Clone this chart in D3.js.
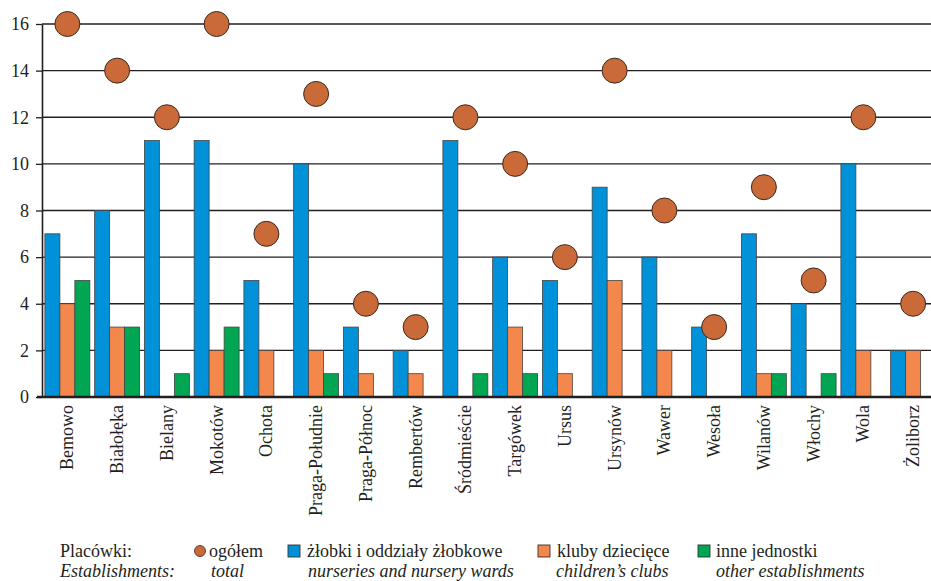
<!DOCTYPE html>
<html><head><meta charset="utf-8">
<script src="https://cdn.jsdelivr.net/npm/d3@7"></script>
<style>body{margin:0;background:#fff;} svg{display:block;}</style>
</head><body><svg id="c" width="931" height="581"></svg>
<script>
const categories = ["Bemowo","Białołęka","Bielany","Mokotów","Ochota","Praga-Południe","Praga-Północ","Rembertów","Śródmieście","Targówek","Ursus","Ursynów","Wawer","Wesoła","Wilanów","Włochy","Wola","Żoliborz"];
const total    = [16,14,12,16,7,13,4,3,12,10,6,14,8,3,9,5,12,4];
const nurseries= [7,8,11,11,5,10,3,2,11,6,5,9,6,3,7,4,10,2];
const clubs    = [4,3,0,2,2,2,1,1,0,3,1,5,2,0,1,0,2,2];
const other    = [5,3,1,3,0,1,0,0,1,1,0,0,0,0,1,1,0,0];
const yTicks = [0,2,4,6,8,10,12,14,16];
const seriesNames = ["nurseries","clubs","other"];
const colors = {total:"#c96a38", nurseries:"#0091d9", clubs:"#f4874b", other:"#00a651"};
const FONT = '"Liberation Serif", "Times New Roman", serif';
const INK = "#231f20";

const svg = d3.select("#c");
const mLeft = 42, mTop = 24, mBottom = 397, mRight = 931;
const x = d3.scaleBand().domain(categories).range([42.5, 42.5 + 18*49.75]).paddingInner(0).paddingOuter(0);
const y = d3.scaleLinear().domain([0,16]).range([mBottom, mTop]);
const xs = d3.scaleBand().domain(seriesNames).range([0, x.bandwidth()]).paddingInner(0).paddingOuter(0.16);

// gridlines
svg.append("g").selectAll("line").data(yTicks.filter(d=>d>0)).join("line")
  .attr("x1", mLeft).attr("x2", mRight).attr("y1", d=>y(d)).attr("y2", d=>y(d))
  .attr("stroke",INK).attr("stroke-width",1.3);

// y axis
const ya = svg.append("g").attr("transform",`translate(${mLeft},0)`)
  .call(d3.axisLeft(y).tickValues(yTicks).tickSize(6).tickPadding(7).tickSizeOuter(0));
ya.attr("font-family", null);
ya.select(".domain").attr("stroke",INK).attr("stroke-width",1.6);
ya.selectAll(".tick line").attr("stroke",INK).attr("stroke-width",1.3);
ya.selectAll("text").style("font-size","18px").style("font-family",FONT).attr("fill",INK);

// bars
const data = categories.map((c,i)=>({c, nurseries:nurseries[i], clubs:clubs[i], other:other[i], total:total[i]}));
const g = svg.append("g");
data.forEach(d=>{
  seriesNames.forEach(s=>{
    if(d[s] > 0){
      g.append("rect")
        .attr("x", x(d.c) + xs(s)).attr("width", xs.bandwidth())
        .attr("y", y(d[s])).attr("height", y(0) - y(d[s]))
        .attr("fill", colors[s]).attr("stroke","#444").attr("stroke-width",0.8);
    }
  });
});

// x axis line
svg.append("line").attr("x1",37).attr("x2",mRight).attr("y1",mBottom).attr("y2",mBottom)
  .attr("stroke",INK).attr("stroke-width",2.6);

// circles
svg.append("g").selectAll("circle").data(data).join("circle")
  .attr("cx", d=>x(d.c)+x.bandwidth()/2).attr("cy", d=>y(d.total)).attr("r",12.5)
  .attr("fill",colors.total).attr("stroke","#3a2a20").attr("stroke-width",1);

// x labels
svg.append("g").selectAll("text").data(categories).join("text")
  .attr("transform", d=>`translate(${x(d)+x.bandwidth()/2+6},405) rotate(-90)`)
  .attr("text-anchor","end").style("font-family",FONT).style("font-size","18px").attr("fill",INK).text(d=>d);

// legend
const leg = svg.append("g");
const t = (xx,yy,s,it)=>leg.append("text").attr("x",xx).attr("y",yy).style("font-family",FONT)
  .style("font-size","18px").style("font-style",it?"italic":"normal").attr("fill",INK).text(s);
t(60,557,"Placówki:");
t(60,577,"Establishments:",true);
leg.append("circle").attr("cx",200).attr("cy",551).attr("r",5.5).attr("fill",colors.total).attr("stroke","#3a2a20").attr("stroke-width",0.8);
t(209,557,"ogółem");
t(211,577,"total",true);
const sq = [["nurseries",288,"żłobki i oddziały żłobkowe",307,"nurseries and nursery wards",308],
            ["clubs",538,"kluby dziecięce",557,"children’s clubs",556],
            ["other",698,"inne jednostki",716,"other establishments",716]];
sq.forEach(([k,xx,t1,x1,t2,x2])=>{
  leg.append("rect").attr("x",xx).attr("y",545).attr("width",12).attr("height",12).attr("fill",colors[k]).attr("stroke","#333").attr("stroke-width",0.9);
  t(x1,557,t1);
  t(x2,577,t2,true);
});
</script></body></html>
